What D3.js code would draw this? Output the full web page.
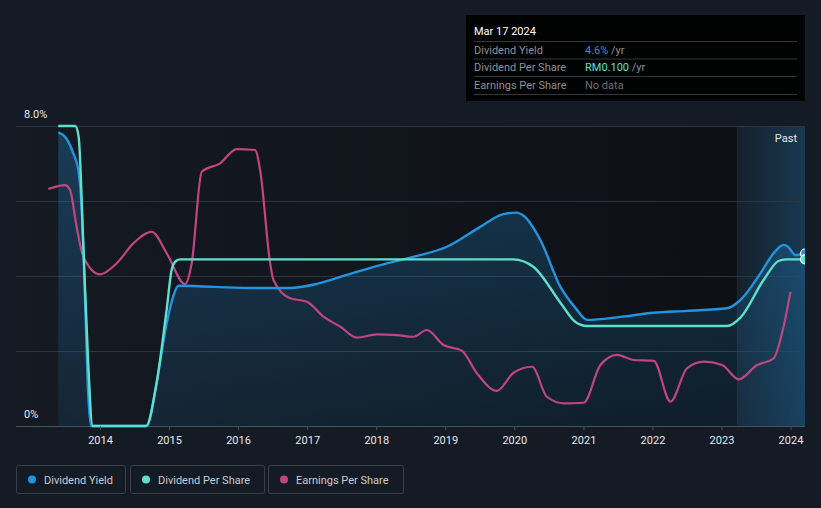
<!DOCTYPE html>
<html><head><meta charset="utf-8">
<script src="https://cdn.jsdelivr.net/npm/d3@7"></script>
<style>
html,body{margin:0;padding:0;background:#151b24;}
svg{display:block;font-family:Roboto,"Noto Sans",sans-serif;}
</style></head>
<body><svg id="c" width="821" height="508"></svg>
<script>
// ---- data (decimal years) ----
const yieldYears = [2013.395,2013.507,2013.613,2013.686,2013.735,2013.783,2013.826,2013.87,2014.677,2014.82,2014.967,2015.06,2015.135,2016.174,2016.754,2017.14,2017.574,2018.058,2018.536,2019.025,2019.507,2019.84,2020.03,2020.14,2020.377,2020.667,2020.884,2021.054,2021.536,2022.014,2022.5,2023.081,2023.275,2023.565,2023.757,2023.9,2023.97,2024.07,2024.21];
const yieldValues = [7.83,7.68,7.27,6.83,5.76,3.36,0.96,0,0,1.15,2.75,3.45,3.74,3.68,3.68,3.79,4.03,4.29,4.51,4.78,5.31,5.65,5.69,5.6,4.96,3.71,3.15,2.83,2.91,3.02,3.07,3.14,3.36,4.07,4.61,4.83,4.77,4.56,4.6];

const dpsYears = [2013.395,2013.64,2013.69,2013.757,2013.826,2013.893,2014.667,2014.82,2014.965,2015.04,2015.1,2015.16,2019.986,2020.275,2020.667,2020.884,2021.052,2023.081,2023.275,2023.61,2023.826,2023.93,2024.21];
const dpsValues = [0.18,0.18,0.1736,0.11,0.04,0,0,0.0258,0.0696,0.094,0.099,0.1,0.1,0.0956,0.074,0.0624,0.06,0.06,0.065,0.0876,0.099,0.1,0.1];

const epsYears = [2013.25,2013.493,2013.565,2013.661,2013.758,2014.0,2014.242,2014.483,2014.748,2014.967,2015.232,2015.329,2015.474,2015.739,2015.981,2016.246,2016.319,2016.464,2016.512,2016.754,2016.995,2017.235,2017.478,2017.719,2018.009,2018.299,2018.539,2018.733,2018.975,2019.24,2019.459,2019.749,2019.99,2020.257,2020.472,2020.713,2021.003,2021.246,2021.487,2021.728,2022.019,2022.261,2022.501,2022.743,2023.009,2023.25,2023.516,2023.757,2023.9,2024.0];
const epsValues = [0.1264,0.1285,0.1259,0.1063,0.0903,0.0809,0.0868,0.0974,0.1036,0.0921,0.0757,0.0869,0.1356,0.1401,0.1477,0.1472,0.1365,0.0869,0.0779,0.0681,0.0663,0.0583,0.053,0.0471,0.0489,0.0485,0.0476,0.0512,0.0432,0.0402,0.0281,0.0187,0.0284,0.0316,0.0156,0.0121,0.0124,0.0325,0.0379,0.0352,0.0347,0.013,0.0308,0.0343,0.0325,0.0249,0.0325,0.0361,0.053,0.0716];

const tickYears = [2014,2015,2016,2017,2018,2019,2020,2021,2022,2023,2024];
const yTickLabels = ["0%","8.0%"];
const gridValues = [0,2,4,6,8];
const pastStart = 2023.23;
const legendNames = ["Dividend Yield","Dividend Per Share","Earnings Per Share"];
const tooltipRows = [["Dividend Yield","4.6%"," /yr"],["Dividend Per Share","RM0.100"," /yr"],["Earnings Per Share","No data",""]];
const tooltipDate = "Mar 17 2024";

// ---- setup ----
const C = {yield:"#2394df", dps:"#5ee0cc", eps:"#c2457f"};
const toDate = y => { const yr=Math.floor(y); const s=new Date(yr,0,1), e=new Date(yr+1,0,1); return new Date(+s + (y-yr)*(e-s)); };
const L=16,R=805,T=126,B=426;
const x = d3.scaleTime().domain([toDate(2012.783),toDate(2024.21)]).range([L,R]);
const y = d3.scaleLinear().domain([0,8]).range([B,T]);
const yD = d3.scaleLinear().domain([0,0.18]).range([B,T]);
const yE = d3.scaleLinear().domain([0,0.16]).range([B,T]);

const svg = d3.select("#c");
const defs = svg.append("defs");
const g1 = defs.append("linearGradient").attr("id","bgG").attr("x1",0).attr("x2",1).attr("y1",0).attr("y2",0);
g1.append("stop").attr("offset","0%").attr("stop-color","#151a23");
g1.append("stop").attr("offset","100%").attr("stop-color","#0d1015");
const g2 = defs.append("linearGradient").attr("id","areaG").attr("x1",0).attr("x2",0).attr("y1",0).attr("y2",1);
g2.append("stop").attr("offset","0%").attr("stop-color","#2394df").attr("stop-opacity",0.28);
g2.append("stop").attr("offset","100%").attr("stop-color","#2394df").attr("stop-opacity",0.1);
const g3 = defs.append("linearGradient").attr("id","pastG").attr("x1",0).attr("x2",1).attr("y1",0).attr("y2",0);
g3.append("stop").attr("offset","0%").attr("stop-color","#2394df").attr("stop-opacity",0.05);
g3.append("stop").attr("offset","100%").attr("stop-color","#2394df").attr("stop-opacity",0.24);
defs.append("clipPath").attr("id","clip").append("rect").attr("x",L).attr("y",T-10).attr("width",R-L).attr("height",B-T+12);

svg.append("rect").attr("width",821).attr("height",508).attr("fill","#151b24");
svg.append("rect").attr("x",L).attr("y",T).attr("width",x(toDate(pastStart))-L).attr("height",B-T).attr("fill","url(#bgG)");
svg.append("rect").attr("x",x(toDate(pastStart))).attr("y",T).attr("width",R-x(toDate(pastStart))).attr("height",B-T).attr("fill","url(#pastG)");
svg.append("line").attr("x1",x(toDate(pastStart))).attr("x2",x(toDate(pastStart))).attr("y1",T).attr("y2",B).attr("stroke","#1a2a3a").attr("stroke-width",1);

// grid
svg.append("g").selectAll("line").data(gridValues).join("line")
  .attr("x1",L).attr("x2",R).attr("y1",d=>y(d)+0.5).attr("y2",d=>y(d)+0.5)
  .attr("stroke",d=>d===0?"#4a505a":"#2e343d").attr("stroke-width",1);

const plot = svg.append("g").attr("clip-path","url(#clip)");
const yd = yieldYears.map((t,i)=>({t,v:yieldValues[i]}));
const dd = dpsYears.map((t,i)=>({t,v:dpsValues[i]}));
const ed = epsYears.map((t,i)=>({t,v:epsValues[i]}));
const cur = d3.curveMonotoneX;
plot.append("path").datum(yd).attr("fill","url(#areaG)")
  .attr("d",d3.area().curve(cur).x(d=>x(toDate(d.t))).y0(B).y1(d=>y(d.v)));
plot.append("path").datum(ed).attr("fill","none").attr("stroke",C.eps).attr("stroke-width",2.2)
  .attr("d",d3.line().curve(cur).x(d=>x(toDate(d.t))).y(d=>yE(d.v)));
plot.append("path").datum(yd).attr("fill","none").attr("stroke",C.yield).attr("stroke-width",2.4)
  .attr("d",d3.line().curve(cur).x(d=>x(toDate(d.t))).y(d=>y(d.v)));
plot.append("path").datum(dd).attr("fill","none").attr("stroke",C.dps).attr("stroke-width",2.4)
  .attr("d",d3.line().curve(cur).x(d=>x(toDate(d.t))).y(d=>yD(d.v)));
plot.append("circle").attr("cx",x(toDate(yd[yd.length-1].t))).attr("cy",y(yd[yd.length-1].v)).attr("r",4.5).attr("fill",C.yield).attr("stroke","#fff").attr("stroke-width",1.2);
plot.append("circle").attr("cx",x(toDate(dd[dd.length-1].t))).attr("cy",yD(dd[dd.length-1].v)).attr("r",4.5).attr("fill",C.dps).attr("stroke","#fff").attr("stroke-width",1.2);

// x axis
const ax = svg.append("g").attr("transform",`translate(0,${B})`)
  .call(d3.axisBottom(x).tickValues(tickYears.map(v=>new Date(v,0,1))).tickFormat(d3.timeFormat("%Y")).tickSize(4).tickPadding(4));
ax.select(".domain").remove();
ax.selectAll("line").attr("stroke","#4a505a");
ax.selectAll("text").attr("fill","#e6e8ea").attr("font-size",11).attr("font-family","Roboto, sans-serif").attr("dy","0.9em");

// y labels
svg.append("text").attr("x",24).attr("y",y(8)-8).attr("fill","#e6e8ea").attr("font-size",11).text(yTickLabels[1]);
svg.append("text").attr("x",24).attr("y",y(0)-8).attr("fill","#e6e8ea").attr("font-size",11).text(yTickLabels[0]);
svg.append("text").attr("x",797).attr("y",142).attr("text-anchor","end").attr("fill","#e6e8ea").attr("font-size",11).text("Past");

// tooltip
const tt = svg.append("g").attr("transform","translate(466,15)");
tt.append("rect").attr("width",339).attr("height",86).attr("fill","#000").attr("opacity",0.92);
tt.append("text").attr("x",8).attr("y",20).attr("fill","#fff").attr("font-size",11).text(tooltipDate);
tooltipRows.forEach((r,i)=>{
  const yy = 26 + i*17.5;
  tt.append("line").attr("x1",8).attr("x2",331).attr("y1",yy+0.5).attr("y2",yy+0.5).attr("stroke","#33363b");
  tt.append("text").attr("x",8).attr("y",yy+12.5).attr("fill","#8d9095").attr("font-size",11).text(r[0]);
  const t = tt.append("text").attr("x",119).attr("y",yy+12.5).attr("font-size",11);
  t.append("tspan").attr("fill",i===0?C.yield:i===1?C.dps:"#6c6f74").text(r[1]);
  t.append("tspan").attr("fill","#8d9095").text(r[2]);
});
tt.append("line").attr("x1",8).attr("x2",331).attr("y1",79.5).attr("y2",79.5).attr("stroke","#33363b");

// legend
const legX = [16,130,268], legW=[109,134,135];
const lg = svg.append("g");
legendNames.forEach((n,i)=>{
  const gg = lg.append("g").attr("transform",`translate(${legX[i]},465)`);
  gg.append("rect").attr("x",0.5).attr("y",0.5).attr("width",legW[i]).attr("height",28).attr("rx",2).attr("fill","none").attr("stroke","#3a3f48");
  gg.append("circle").attr("cx",16).attr("cy",14.5).attr("r",4).attr("fill",[C.yield,C.dps,C.eps][i]);
  gg.append("text").attr("x",28).attr("y",18.5).attr("fill","#c9ccd0").attr("font-size",11).text(n);
});
</script></body></html>
